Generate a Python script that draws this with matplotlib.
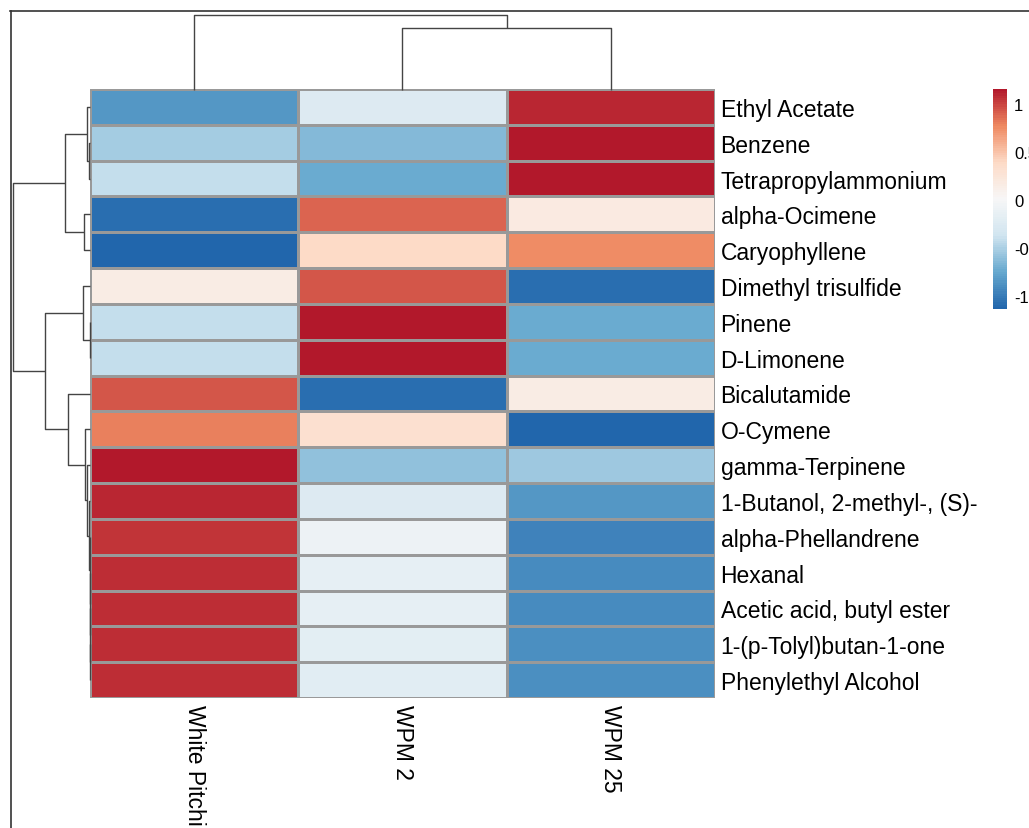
import matplotlib
matplotlib.use('Agg')
import matplotlib.pyplot as plt
import numpy as np
from matplotlib.colors import LinearSegmentedColormap, Normalize
from matplotlib.lines import Line2D

# row-scaled (z-score) abundances, rows in clustered order
compounds = ['Ethyl Acetate', 'Benzene', 'Tetrapropylammonium', 'alpha-Ocimene',
             'Caryophyllene', 'Dimethyl trisulfide', 'Pinene', 'D-Limonene',
             'Bicalutamide', 'O-Cymene', 'gamma-Terpinene',
             '1-Butanol, 2-methyl-, (S)-', 'alpha-Phellandrene', 'Hexanal',
             'Acetic acid, butyl ester', '1-(p-Tolyl)butan-1-one', 'Phenylethyl Alcohol']
samples = ['White Pitchi', 'WPM 2', 'WPM 25']

white_pitchi = [-0.85, -0.52, -0.41, -1.08, -1.13, 0.15, -0.41, -0.42,
                0.93, 0.80, 1.155, 1.10, 1.05, 1.08, 1.08, 1.08, 1.08]
wpm_2 = [-0.25, -0.63, -0.73, 0.89, 0.38, 0.93, 1.14, 1.14,
         -1.08, 0.33, -0.60, -0.25, -0.10, -0.16, -0.17, -0.18, -0.20]
wpm_25 = [1.10, 1.15, 1.14, 0.19, 0.76, -1.08, -0.73, -0.72,
          0.15, -1.13, -0.555, -0.85, -0.95, -0.92, -0.91, -0.90, -0.88]

# tree merges (a, b, height); ids past the leaf count point at earlier merges
row_merges = [(1, 2, 0.025), (0, 17, 0.135), (3, 4, 0.30), (18, 19, 1.25),
              (6, 7, 0.015), (5, 21, 0.365), (15, 16, 0.005), (14, 23, 0.01),
              (13, 24, 0.015), (12, 25, 0.02), (11, 26, 0.03), (10, 27, 0.135),
              (9, 28, 0.25), (8, 29, 1.10), (22, 30, 2.25), (20, 31, 3.835)]
col_merges = [(1, 2, 2.5), (0, 3, 3.0)]

cb_ticks = [-1, -0.5, 0, 0.5, 1]
cb_labels = ['-1', '-0.5', '0', '0.5', '1']

plt.rcParams['font.family'] = ['Liberation Sans', 'DejaVu Sans']

data = np.column_stack([white_pitchi, wpm_2, wpm_25])
n_rows, n_cols = data.shape

cmap = LinearSegmentedColormap.from_list(
    'rdbu7', ['#2166AC', '#67A9CF', '#D1E5F0', '#F7F7F7',
              '#FDDBC7', '#EF8A62', '#B2182B'], N=100)
norm = Normalize(vmin=data.min(), vmax=data.max())

W, H = 1029, 829
fig = plt.figure(figsize=(W / 100, H / 100), dpi=100)


def px_axes(x0, y0, x1, y1):
    return fig.add_axes([x0 / W, 1 - y1 / H, (x1 - x0) / W, (y1 - y0) / H])


def draw_tree(ax, merges, n, side):
    pos = {i: i + 0.5 for i in range(n)}
    hgt = {i: 0.0 for i in range(n)}
    for k, (a, b, h) in enumerate(merges):
        xs = [hgt[a], h, h, hgt[b]]
        ys = [pos[a], pos[a], pos[b], pos[b]]
        if side == 'top':
            xs, ys = ys, xs
        ax.plot(xs, ys, color='#444444', lw=1.0, clip_on=False,
                solid_capstyle='butt')
        pos[n + k] = (pos[a] + pos[b]) / 2
        hgt[n + k] = h


# heatmap
ax = px_axes(90, 90, 715, 699)
ax.pcolormesh(data, cmap=cmap, norm=norm, edgecolors='#999999', linewidth=0.8)
ax.set_xlim(0, n_cols)
ax.set_ylim(n_rows, 0)
ax.yaxis.tick_right()
ax.set_yticks(np.arange(n_rows) + 0.5)
ax.set_yticklabels(compounds, fontsize=16.5)
ax.set_xticks(np.arange(n_cols) + 0.5)
ax.set_xticklabels(samples, fontsize=16.5, rotation=270, va='top', ha='center')
ax.tick_params(length=0, pad=4)
for s in ax.spines.values():
    s.set_visible(False)

# row dendrogram
axr = px_axes(13, 90, 90, 699)
draw_tree(axr, row_merges, n_rows, 'left')
axr.set_xlim(row_merges[-1][2], 0)
axr.set_ylim(n_rows, 0)
axr.axis('off')

# column dendrogram
axc = px_axes(90, 16, 715, 91)
draw_tree(axc, col_merges, n_cols, 'top')
axc.set_xlim(0, n_cols)
axc.set_ylim(0, col_merges[-1][2])
axc.axis('off')

# colour legend
cax = px_axes(993, 90, 1007, 310)
cb = fig.colorbar(plt.cm.ScalarMappable(norm=norm, cmap=cmap), cax=cax)
cb.outline.set_visible(False)
cb.set_ticks(cb_ticks)
cb.set_ticklabels(cb_labels)
cax.tick_params(length=0, labelsize=12, pad=5)

# outer frame
fig.add_artist(Line2D([10.5 / W, 10.5 / W], [0, 1 - 12 / H],
                      transform=fig.transFigure, color='#333333', lw=1.2))
fig.add_artist(Line2D([10 / W, 1], [1 - 12 / H, 1 - 12 / H],
                      transform=fig.transFigure, color='#333333', lw=1.2))

fig.savefig('out.png', dpi=100, facecolor='white')
